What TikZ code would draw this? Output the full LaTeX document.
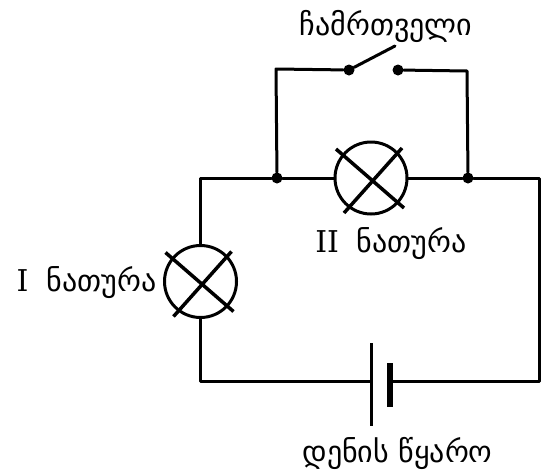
\documentclass[tikz,border=0pt]{standalone}
\usepackage{fontspec}
\setmainfont{DejaVu Serif}
\newfontfamily\geo{DejaVu Sans}
\tikzset{
    wire/.style={black, line width=3pt, line cap=round, line join=round},
    lamp/.style={circle, draw=black, line width=3pt, minimum size=72pt, inner sep=0pt, fill=white},
    junction/.style={circle, fill=black, inner sep=0pt, minimum size=11pt},
    label/.style={inner sep=0pt, font=\fontsize{30}{35}\selectfont}
}
\begin{document}
\begin{tikzpicture}[x=1pt,y=-1pt]
    \useasboundingbox (0,0) rectangle (549,474);
    \coordinate (cornerTL) at (200,178);
    \coordinate (cornerTR) at (539,178);
    \coordinate (cornerBL) at (200,381);
    \coordinate (cornerBR) at (539,381);
    \coordinate (switchL) at (276,69);
    \coordinate (switchR) at (467,71);
    \coordinate (bladeEnd) at (395,46);
    \coordinate (batL) at (371,381);
    \coordinate (batR) at (390,381);
    \node [junction] (nodeL) at (277,178) {};
    \node [junction] (nodeR) at (468,178) {};
    \node [junction] (contactL) at (349,70) {};
    \node [junction] (contactR) at (398,70) {};

    \draw [wire] (batL) -- (cornerBL) -- (cornerTL) -- (nodeL) -- (nodeR) -- (cornerTR) -- (cornerBR) -- (batR);
    \draw [wire] (nodeL) -- (switchL) -- (contactL);
    \draw [wire] (nodeR) -- (switchR) -- (contactR);
    \draw [wire] (contactL) -- (bladeEnd);
    \draw [black, line width=3pt] (371,343) -- (371,426);
    \draw [black, line width=5.5pt] (390,363) -- (390,407);

    \node [lamp] (lampTop) at (371,178) {};
    \node [lamp] (lampLeft) at (200.5,281.5) {};
    \foreach \cx/\cy in {371/178, 200.5/281.5} {
        \draw [black, line width=3.5pt] (\cx-35,\cy-29) -- (\cx+33,\cy+30);
        \draw [black, line width=3.5pt] (\cx+31,\cy-30) -- (\cx-27,\cy+35);
    }

    \node [label] (switchText) at (386,26) {\geo ჩამრთველი};
    \node [label] (lampTopText) at (391,244) {II\hspace{18pt}\geo ნათურა};
    \node [label] (lampLeftText) at (86.5,283) {I\hspace{18pt}\geo ნათურა};
    \node [label] (sourceText) at (397.5,453) {\geo დენის წყარო};
\end{tikzpicture}
\end{document}
